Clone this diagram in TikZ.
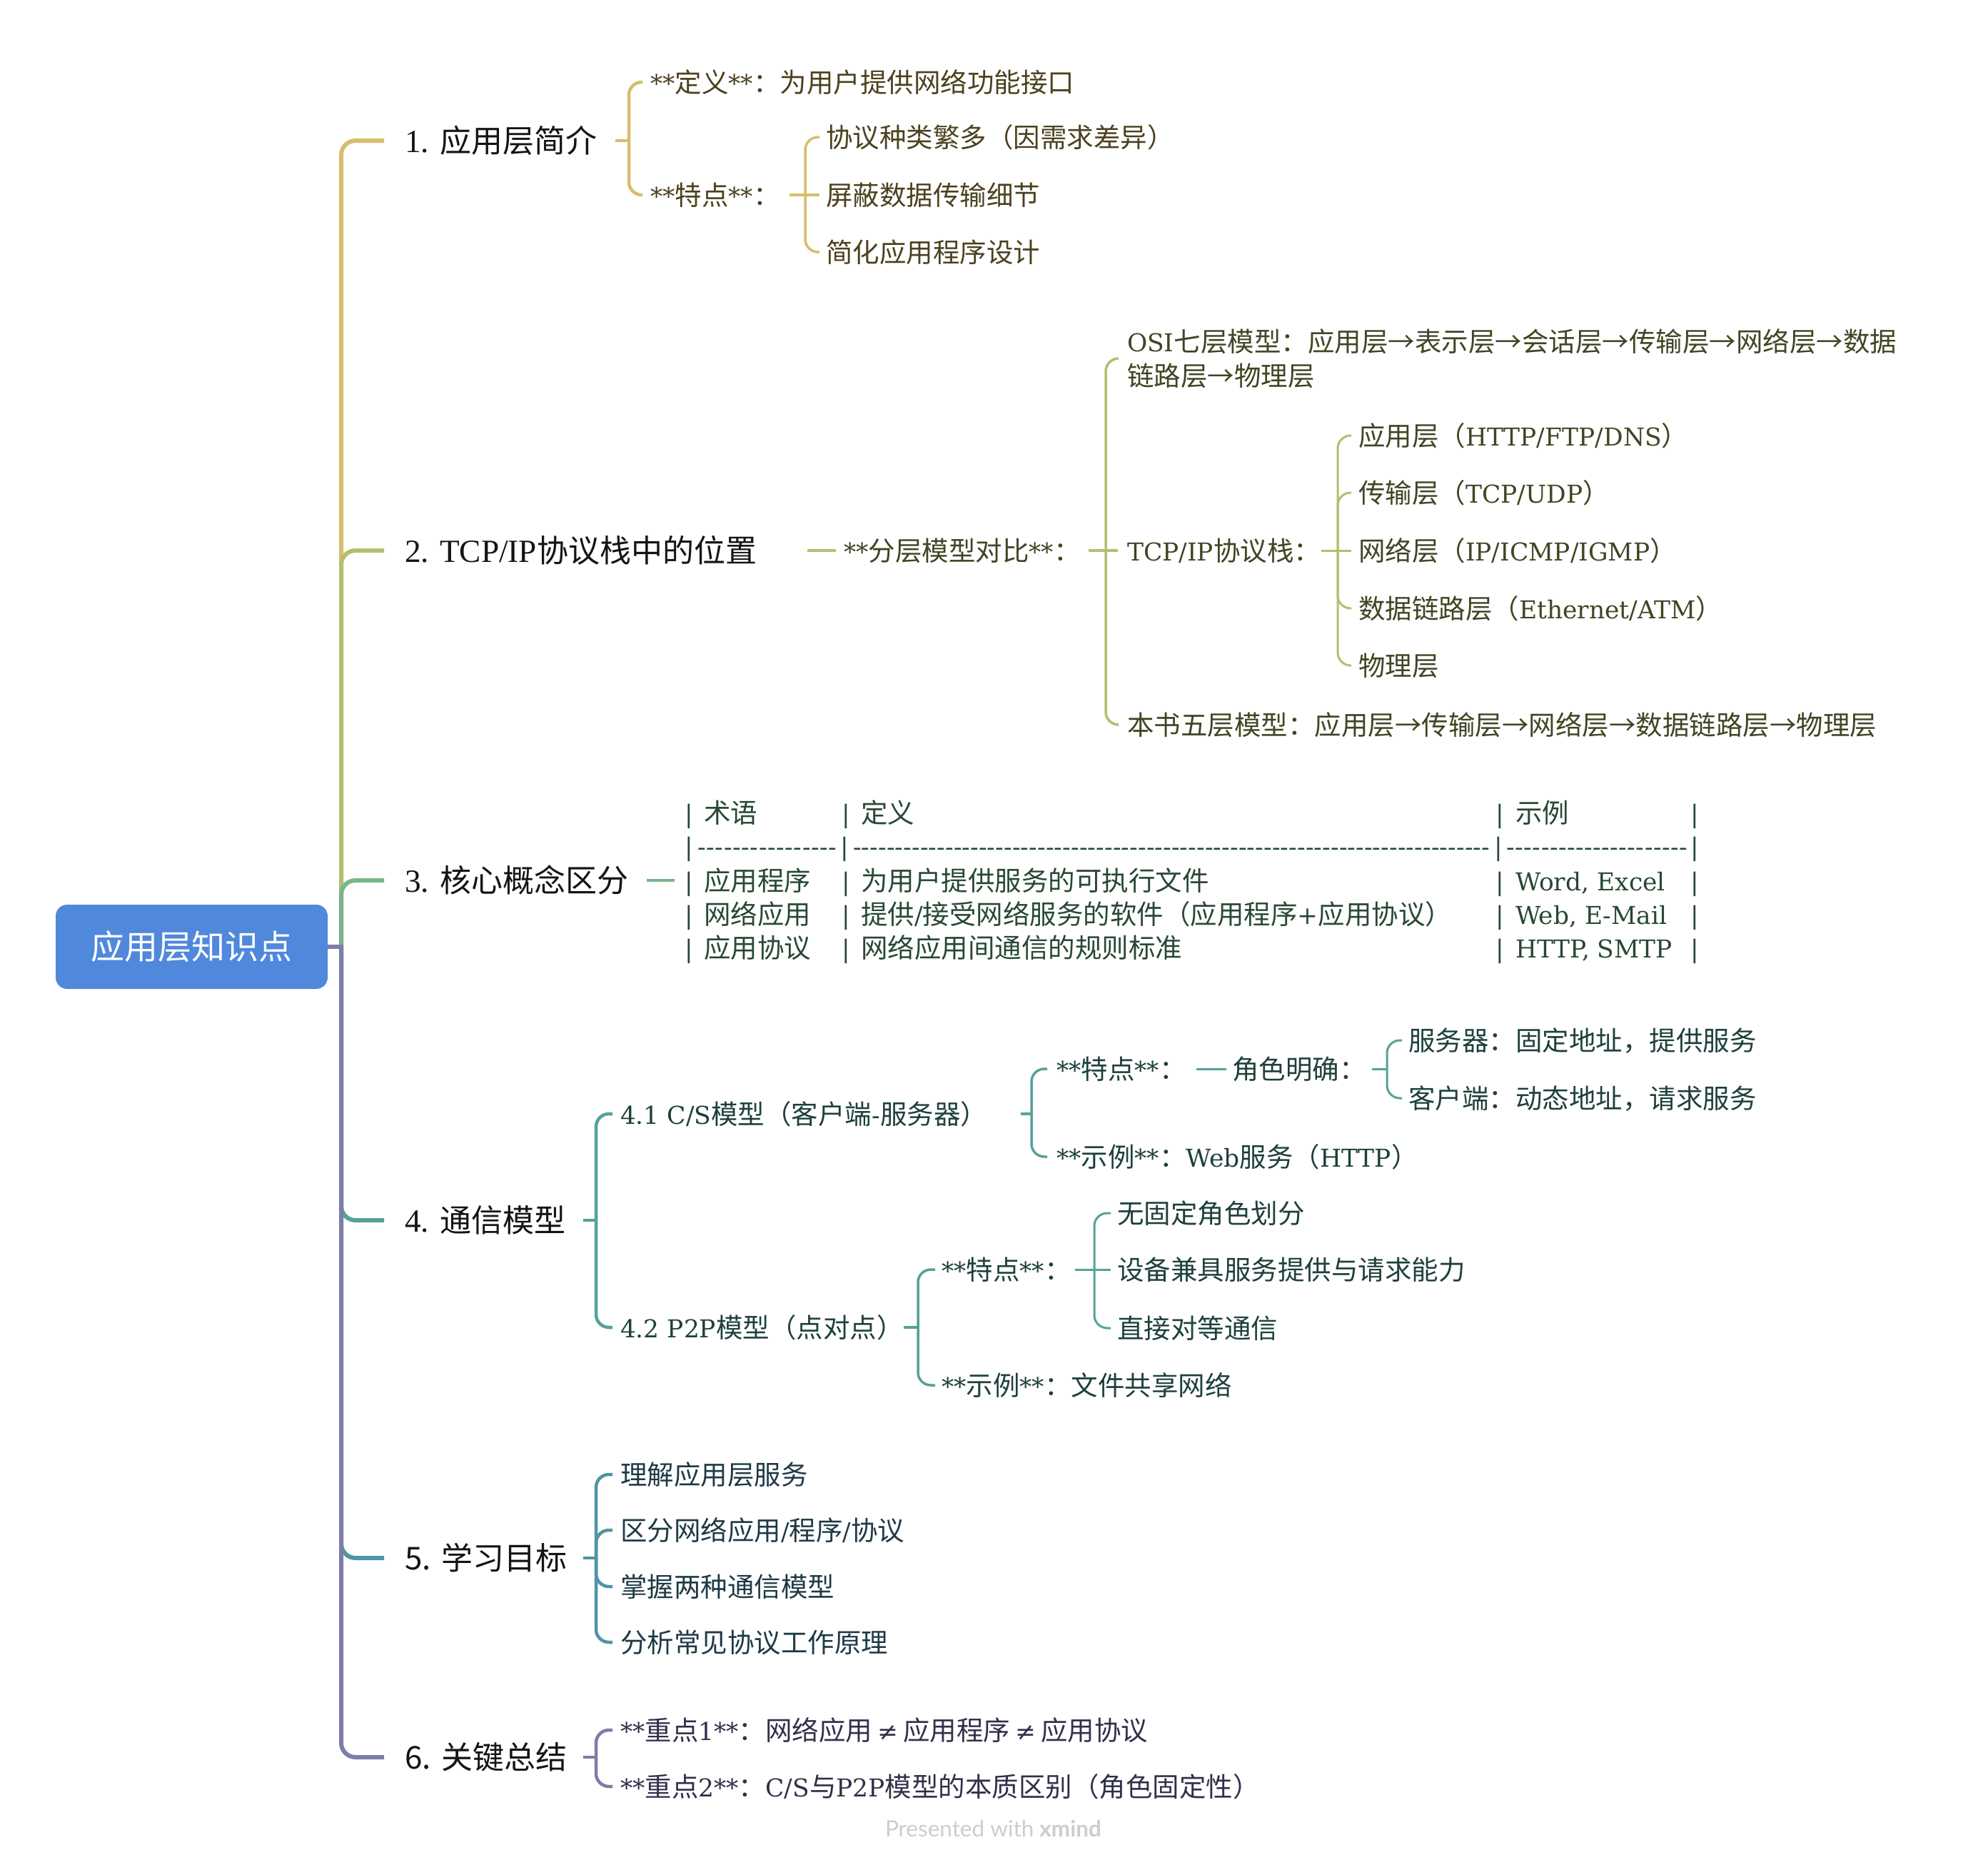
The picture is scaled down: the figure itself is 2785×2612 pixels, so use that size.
\documentclass[tikz,border=0pt]{standalone}
\usepackage{fontspec}
\setmainfont{DejaVu Serif}[Scale=0.92]
\newfontfamily\cjkfont{Noto Sans CJK SC}
\newfontfamily\mlat{Liberation Serif}[Scale=1.03]
\newfontfamily\wmfont{Lato}
\usetikzlibrary{calc}

% automatic switch between Latin (serif) and CJK font
\XeTeXinterchartokenstate=1
\chardef\CJKcls=100
\newcount\mycnt
\def\setcjkrange#1#2{\mycnt=#1\relax\loop\XeTeXcharclass\mycnt=\CJKcls\relax\advance\mycnt by 1\relax\ifnum\mycnt<#2\relax\repeat}
\setcjkrange{"4E00}{"A000}
\setcjkrange{"3000}{"3040}
\setcjkrange{"FF00}{"FFF0}
\XeTeXcharclass"2192=\CJKcls
\XeTeXinterchartoks 0 \CJKcls = {\cjkfont}
\XeTeXinterchartoks 4095 \CJKcls = {\cjkfont}
\XeTeXinterchartoks \CJKcls 0 = {\rmfamily}
\XeTeXinterchartoks \CJKcls 4095 = {\rmfamily}

\definecolor{c1l}{RGB}{214,190,110}
\definecolor{c2l}{RGB}{180,190,112}
\definecolor{c3l}{RGB}{122,180,140}
\definecolor{c4l}{RGB}{85,162,152}
\definecolor{c5l}{RGB}{80,148,165}
\definecolor{c6l}{RGB}{125,125,170}
\definecolor{t1}{RGB}{75,65,30}
\definecolor{t2}{RGB}{62,70,35}
\definecolor{t3}{RGB}{40,72,52}
\definecolor{t4}{RGB}{30,64,60}
\definecolor{t5}{RGB}{30,58,70}
\definecolor{t6}{RGB}{48,48,75}
\definecolor{mt}{RGB}{20,20,20}
\definecolor{rootblue}{RGB}{80,136,220}
\definecolor{wm}{RGB}{205,205,205}

\newcommand\hb[1]{\hbox to 0pt{\hss#1\hss}}
\newcommand\putat[2]{\rlap{\kern#1pt\relax#2}}
\newcommand\dashes[1]{\hbox to #1pt{\xleaders\hbox{-}\hfill}}
\newcommand\stubline[4]{\draw[#1] (#3,0 |- #2.west) -- (#4,0 |- #2.west);}
\newcommand\bent[5]{\draw[#1,rounded corners=18pt] (#3,0 |- #2.west) |- ([xshift=-#4pt]#5.west);}
\newcommand\straight[5]{\draw[#1] (#3,0 |- #2.west) -- ([xshift=-#4pt]#5.west);}
\newcommand\trow[3]{\hbox to 1409pt{\putat{0}{\hb{|}}\putat{21}{#1}\putat{220}{\hb{|}}\putat{241}{#2}\putat{1136}{\hb{|}}\putat{1158}{#3}\putat{1409}{\hb{|}}\hss}}

\begin{document}
\begin{tikzpicture}[x=1pt,y=-1pt,
  every node/.style={inner sep=0pt,outer sep=0pt},
  sub/.style={anchor=west,font=\fontsize{37.5}{48}\selectfont,text height=33pt,text depth=4.5pt},
  main/.style={anchor=west,text=mt,font=\fontsize{44}{52}\selectfont\mlat,text height=39pt,text depth=6pt},
  rootn/.style={fill=rootblue,rounded corners=16pt,minimum width=381pt,minimum height=118pt,text=white,font=\fontsize{47}{56}\selectfont},
  tr/.style={line width=6pt,rounded corners=20pt},
  L1/.style={line width=4.5pt},
  L2/.style={line width=3.5pt},
  L3/.style={line width=3pt}]
\path[use as bounding box] (0,0) rectangle (2785,2612);

% root and main topics
\node[rootn] (root) at (268.5,1326) {应用层知识点};
\node[main] (m1) at (567,197) {1. 应用层简介};
\node[main] (m2) at (567,771) {2. TCP/IP协议栈中的位置};
\node[main] (m3) at (567,1233) {3. 核心概念区分};
\node[main] (m4) at (567,1709) {4. 通信模型};
\node[main] (m5) at (567,2182) {{\cjkfont 5.} 学习目标};
\node[main] (m6) at (567,2461) {{\cjkfont 6.} 关键总结};

% trunk
\foreach \i/\c in {1/c1l,2/c2l,3/c3l,4/c4l,5/c5l,6/c6l}
  \draw[tr,draw=\c] (478,0 |- root.east) |- ([xshift=-29pt]m\i.west);
\draw[line width=6pt,draw=c6l] (root.east) -- (481,0 |- root.east);

% ---------- branch 1
\node[sub,text=t1] (a1) at (911,115) {**定义**：为用户提供网络功能接口};
\node[sub,text=t1] (a2) at (911,273) {**特点**：};
\node[sub,text=t1] (a21) at (1157,192) {协议种类繁多（因需求差异）};
\node[sub,text=t1] (a22) at (1157,273) {屏蔽数据传输细节};
\node[sub,text=t1] (a23) at (1157,353) {简化应用程序设计};
\stubline{L1,draw=c1l}{m1}{862}{881}
\bent{L1,draw=c1l}{m1}{881}{11}{a1}
\bent{L1,draw=c1l}{m1}{881}{11}{a2}
\stubline{L2,draw=c1l}{a2}{1106}{1128}
\bent{L2,draw=c1l}{a2}{1128}{9}{a21}
\straight{L2,draw=c1l}{a2}{1128}{9}{a22}
\bent{L2,draw=c1l}{a2}{1128}{9}{a23}

% ---------- branch 2
\node[sub,text=t2] (b2) at (1182,771) {**分层模型对比**：};
\node[sub,text=t2,align=left,text height=,text depth=] (b21) at (1579,502) {OSI七层模型：应用层→表示层→会话层→传输层→网络层→数据\\链路层→物理层};
\node[sub,text=t2] (b22) at (1579,771) {TCP/IP协议栈：};
\node[sub,text=t2] (b23) at (1579,1015) {本书五层模型：应用层→传输层→网络层→数据链路层→物理层};
\node[sub,text=t2] (b221) at (1903,610) {应用层（HTTP/FTP/DNS）};
\node[sub,text=t2] (b222) at (1903,690) {传输层（TCP/UDP）};
\node[sub,text=t2] (b223) at (1903,771) {网络层（IP/ICMP/IGMP）};
\node[sub,text=t2] (b224) at (1903,852) {数据链路层（Ethernet/ATM）};
\node[sub,text=t2] (b225) at (1903,932) {物理层};
\straight{L1,draw=c2l}{m2}{1131}{11}{b2}
\stubline{L2,draw=c2l}{b2}{1525}{1549}
\bent{L2,draw=c2l}{b2}{1549}{13}{b21}
\straight{L2,draw=c2l}{b2}{1549}{13}{b22}
\bent{L2,draw=c2l}{b2}{1549}{13}{b23}
\stubline{L3,draw=c2l}{b22}{1851}{1874}
\bent{L3,draw=c2l}{b22}{1874}{10}{b221}
\bent{L3,draw=c2l}{b22}{1874}{10}{b222}
\straight{L3,draw=c2l}{b22}{1874}{10}{b223}
\bent{L3,draw=c2l}{b22}{1874}{10}{b224}
\bent{L3,draw=c2l}{b22}{1874}{10}{b225}

% ---------- branch 3 (table)
\node[sub,text=t3] (r1) at (965,1138) {\trow{术语}{定义}{示例}};
\node[sub,text=t3] (r2) at (965,1184) {\hbox to 1409pt{\putat{0}{\hb{|}}\putat{12}{\dashes{196}}\putat{218}{\hb{|}}\putat{230}{\dashes{892}}\putat{1134}{\hb{|}}\putat{1145}{\dashes{254}}\putat{1409}{\hb{|}}\hss}};
\node[sub,text=t3] (r3) at (965,1233) {\trow{应用程序}{为用户提供服务的可执行文件}{Word, Excel}};
\node[sub,text=t3] (r4) at (965,1280) {\trow{网络应用}{提供/接受网络服务的软件（应用程序+应用协议）}{Web, E-Mail}};
\node[sub,text=t3] (r5) at (965,1327) {\trow{应用协议}{网络应用间通信的规则标准}{HTTP, SMTP}};
\straight{L1,draw=c3l}{m3}{906}{20}{r3}

% ---------- branch 4
\node[sub,text=t4] (d1) at (869,1560) {4.1 C/S模型（客户端-服务器）};
\node[sub,text=t4] (d2) at (869,1859) {4.2 P2P模型（点对点）};
\node[sub,text=t4] (d11) at (1480,1497) {**特点**：};
\node[sub,text=t4] (d12) at (1480,1620) {**示例**：Web服务（HTTP）};
\node[sub,text=t4] (d111) at (1726,1497) {角色明确：};
\node[sub,text=t4] (d1111) at (1973,1457) {服务器：固定地址，提供服务};
\node[sub,text=t4] (d1112) at (1973,1538) {客户端：动态地址，请求服务};
\node[sub,text=t4] (d21) at (1319,1778) {**特点**：};
\node[sub,text=t4] (d22) at (1319,1940) {**示例**：文件共享网络};
\node[sub,text=t4] (d211) at (1565,1699) {无固定角色划分};
\node[sub,text=t4] (d212) at (1565,1778) {设备兼具服务提供与请求能力};
\node[sub,text=t4] (d213) at (1565,1860) {直接对等通信};
\stubline{L1,draw=c4l}{m4}{817}{835}
\bent{L1,draw=c4l}{m4}{835}{11}{d1}
\bent{L1,draw=c4l}{m4}{835}{11}{d2}
\stubline{L2,draw=c4l}{d1}{1430}{1445}
\bent{L2,draw=c4l}{d1}{1445}{13}{d11}
\bent{L2,draw=c4l}{d1}{1445}{13}{d12}
\straight{L3,draw=c4l}{d11}{1676}{8}{d111}
\stubline{L3,draw=c4l}{d111}{1922}{1943}
\bent{L3,draw=c4l}{d111}{1943}{9}{d1111}
\bent{L3,draw=c4l}{d111}{1943}{9}{d1112}
\stubline{L2,draw=c4l}{d2}{1266}{1286}
\bent{L2,draw=c4l}{d2}{1286}{9}{d21}
\bent{L2,draw=c4l}{d2}{1286}{9}{d22}
\stubline{L3,draw=c4l}{d21}{1506}{1533}
\bent{L3,draw=c4l}{d21}{1533}{9}{d211}
\straight{L3,draw=c4l}{d21}{1533}{9}{d212}
\bent{L3,draw=c4l}{d21}{1533}{9}{d213}

% ---------- branch 5
\node[sub,text=t5] (e1) at (869,2065) {理解应用层服务};
\node[sub,text=t5] (e2) at (869,2143) {区分网络应用/程序/协议};
\node[sub,text=t5] (e3) at (869,2222) {掌握两种通信模型};
\node[sub,text=t5] (e4) at (869,2300) {分析常见协议工作原理};
\stubline{L1,draw=c5l}{m5}{817}{835}
\foreach \ch in {e1,e2,e3,e4} {\bent{L1,draw=c5l}{m5}{835}{11}{\ch}}

% ---------- branch 6
\node[sub,text=t6] (f1) at (869,2423) {\spaceskip=7pt\relax **重点1**：网络应用 ≠ 应用程序 ≠ 应用协议};
\node[sub,text=t6] (f2) at (869,2502) {**重点2**：C/S与P2P模型的本质区别（角色固定性）};
\stubline{L1,draw=c6l}{m6}{817}{835}
\bent{L1,draw=c6l}{m6}{835}{11}{f1}
\bent{L1,draw=c6l}{m6}{835}{11}{f2}

% watermark
\node[anchor=west,text=wm,font=\wmfont\fontsize{31.5}{38}\selectfont] (wmk) at (1240,2561) {Presented with \textbf{xmind}};
\end{tikzpicture}
\end{document}
